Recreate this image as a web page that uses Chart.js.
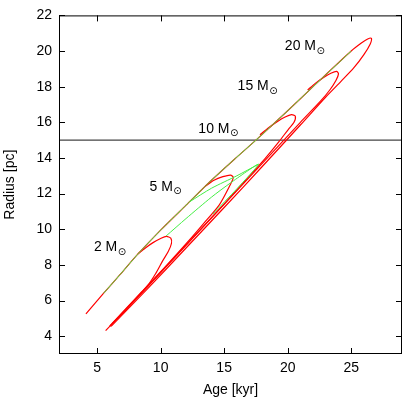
<!DOCTYPE html>
<html>
<head>
<meta charset="utf-8">
<script src="https://cdn.jsdelivr.net/npm/chart.js@4/dist/chart.umd.min.js"></script>
<style>
  html, body { margin: 0; padding: 0; background: #fff; }
  canvas { display: block; }
</style>
</head>
<body>
<canvas id="c" width="407" height="403"></canvas>
<script>
// axis ticks
var xTicks = [5, 10, 15, 20, 25];
var yTicks = [4, 6, 8, 10, 12, 14, 16, 18, 20, 22];

// reference radius line
var refRadius = 15;

// red tracks, one per mass: age [kyr] and radius [pc]
var m2Age    = [8.21, 8.8, 9.4, 10.0, 10.45, 10.8, 10.85, 10.6, 10.17, 9.6, 9.0, 8.0, 7.0, 5.67];
var m2Radius = [8.61, 8.95, 9.25, 9.48, 9.6, 9.5, 9.2, 8.75, 8.24, 7.5, 6.86, 6.05, 5.3, 4.31];

var m5Age    = [13.52, 14.2, 14.9, 15.5, 15.72, 15.45, 14.62, 13.31, 12.27, 10.5, 8.5, 6.0];
var m5Radius = [12.42, 12.75, 12.95, 13.04, 12.9, 12.45, 11.37, 10.26, 9.4, 8.0, 6.48, 4.58];

var m10Age    = [17.82, 18.5, 19.2, 19.8, 20.3, 20.6, 20.5, 20.1, 19.3, 18.2, 16.5, 15.0, 12.0, 9.0, 6.0];
var m10Radius = [15.3, 15.7, 16.05, 16.3, 16.43, 16.35, 16.0, 15.65, 14.9, 13.95, 12.6, 11.42, 9.12, 6.82, 4.55];

var m15Age    = [21.57, 22.2, 22.8, 23.4, 23.85, 24.0, 23.8, 23.3, 22.6, 21.0, 18.0, 15.0, 12.0, 9.0, 6.2];
var m15Radius = [17.82, 18.2, 18.5, 18.75, 18.86, 18.72, 18.35, 17.8, 17.2, 16.0, 13.7, 11.4, 9.1, 6.8, 4.7];

var m20Age    = [4.12, 5.5, 6.8, 8.2, 10.0, 12.0, 14.0, 16.0, 17.5, 20.0, 22.0, 25.0, 25.8, 26.3, 26.59, 26.5, 26.0, 25.2, 24.2, 23.0, 21.0, 18.0, 15.0, 12.0, 9.0, 6.1];
var m20Radius = [5.25, 6.4, 7.45, 8.6, 9.95, 11.35, 12.75, 14.05, 15.0, 16.65, 18.0, 20.0, 20.45, 20.68, 20.71, 20.4, 19.8, 19.05, 18.3, 17.42, 15.85, 13.52, 11.22, 8.95, 6.68, 4.55];

// green tracks
var gMainAge    = [5.5, 6.8, 8.2, 10.0, 12.0, 14.0, 16.0, 17.5, 20.0, 22.0, 25.0];
var gMainRadius = [6.4, 7.45, 8.6, 9.95, 11.35, 12.75, 14.05, 15.0, 16.65, 18.0, 20.0];
var gLowAge     = [10.43, 12.0, 14.0, 15.5, 17.7, 16.0, 14.1];
var gLowRadius  = [9.62, 10.6, 11.8, 12.6, 13.65, 12.27, 10.85];
var gMidAge     = [12.3, 14.0, 16.0, 17.7];
var gMidRadius  = [11.55, 12.3, 13.0, 13.65];

// mass labels (text, age, radius at left/middle of the label)
var massNames   = ['2', '5', '10', '15', '20'];
var labelAge    = [4.75, 9.12, 12.97, 16.06, 19.78];
var labelRadius = [8.97, 12.38, 15.64, 18.04, 20.25];

function pts(xs, ys) {
  return xs.map(function (x, i) { return {x: x, y: ys[i]}; });
}

var FONT = 'Liberation Sans, Arial, Helvetica, sans-serif';
var RED = '#ff0000';
var GREEN = '#44ee44';

function track(data, color, w) {
  return {
    data: data,
    showLine: true,
    borderColor: color,
    backgroundColor: color,
    borderWidth: w,
    pointRadius: 0,
    tension: 0.25,
    fill: false
  };
}

var frame = {
  id: 'frame',
  afterDatasetsDraw: function (chart) {
    var ctx = chart.ctx, a = chart.chartArea;
    var xs = chart.scales.x, ys = chart.scales.y;
    ctx.save();
    ctx.strokeStyle = '#000';
    ctx.lineWidth = 1;
    ctx.strokeRect(a.left + 0.5, a.top + 0.5, a.right - a.left - 1, a.bottom - a.top - 1);
    var tl = 6;
    ctx.beginPath();
    xTicks.forEach(function (v) {
      var px = Math.round(xs.getPixelForValue(v)) + 0.5;
      ctx.moveTo(px, a.bottom); ctx.lineTo(px, a.bottom - tl);
      ctx.moveTo(px, a.top); ctx.lineTo(px, a.top + tl);
    });
    yTicks.forEach(function (v) {
      var py = Math.round(ys.getPixelForValue(v)) + 0.5;
      ctx.moveTo(a.left, py); ctx.lineTo(a.left + tl, py);
      ctx.moveTo(a.right, py); ctx.lineTo(a.right - tl, py);
    });
    ctx.stroke();

    ctx.fillStyle = '#000';
    ctx.textBaseline = 'middle';
    ctx.textAlign = 'left';
    massNames.forEach(function (n, i) {
      var px = xs.getPixelForValue(labelAge[i]);
      var py = ys.getPixelForValue(labelRadius[i]);
      ctx.font = '14px ' + FONT;
      var t = n + ' M';
      ctx.fillText(t, px, py);
      var w = ctx.measureText(t).width;
      ctx.font = '10px DejaVu Sans, ' + FONT;
      ctx.fillText('\u2299', px + w + 0.5, py + 5);
    });
    ctx.restore();
  }
};

// Chart.js paints the first dataset on top, so green comes first
new Chart(document.getElementById('c'), {
  type: 'scatter',
  data: {
    datasets: [
      track(pts(gMainAge, gMainRadius), GREEN, 1),
      track(pts(gLowAge, gLowRadius), GREEN, 1),
      track(pts(gMidAge, gMidRadius), GREEN, 1),
      track(pts(m2Age, m2Radius), RED, 1.2),
      track(pts(m5Age, m5Radius), RED, 1.2),
      track(pts(m10Age, m10Radius), RED, 1.2),
      track(pts(m15Age, m15Radius), RED, 1.2),
      track(pts(m20Age, m20Radius), RED, 1.2),
      {
        data: [{x: 2, y: refRadius}, {x: 29, y: refRadius}],
        showLine: true, borderColor: '#444', borderWidth: 1.3, pointRadius: 0
      }
    ]
  },
  options: {
    responsive: false,
    animation: false,
    layout: {padding: {top: 11, right: 5, left: 0, bottom: 0}},
    plugins: {legend: {display: false}, tooltip: {enabled: false}},
    scales: {
      x: {
        type: 'linear', min: 2, max: 29,
        grid: {display: false, drawTicks: false}, border: {display: false},
        afterBuildTicks: function (s) { s.ticks = xTicks.map(function (v) { return {value: v}; }); },
        afterFit: function (s) { s.height = 49; },
        ticks: {color: '#000', font: {family: FONT, size: 14}, padding: 6, maxRotation: 0},
        title: {display: true, text: 'Age [kyr]', color: '#000', font: {family: FONT, size: 14}, padding: {top: 0, bottom: 4}}
      },
      y: {
        type: 'linear', min: 3, max: 22,
        grid: {display: false, drawTicks: false}, border: {display: false},
        afterBuildTicks: function (s) { s.ticks = yTicks.map(function (v) { return {value: v}; }); },
        afterFit: function (s) { s.width = 59; },
        ticks: {color: '#000', font: {family: FONT, size: 14}, padding: 7},
        title: {display: true, text: 'Radius [pc]', color: '#000', font: {family: FONT, size: 14}, padding: {top: 2, bottom: 0}}
      }
    }
  },
  plugins: [frame]
});
</script>
</body>
</html>
